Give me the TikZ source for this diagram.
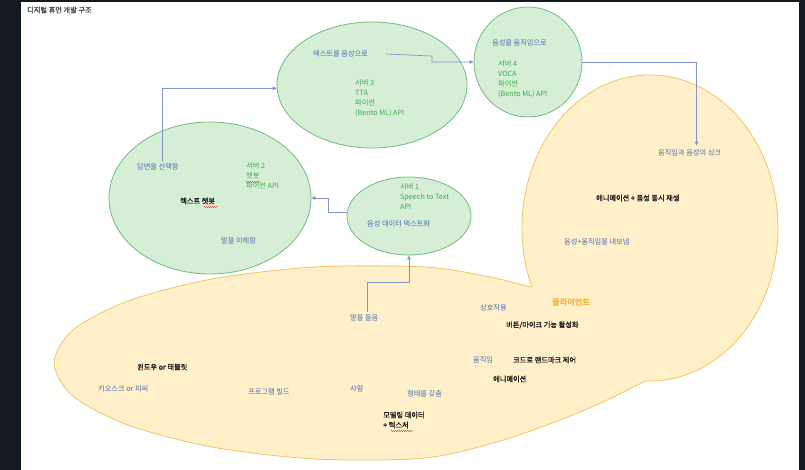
\documentclass[tikz,border=0pt]{standalone}
\usepackage{fontspec}
\setmainfont{Noto Sans CJK KR}
\newfontfamily\krmed[FakeBold=1.2]{Noto Sans CJK KR}
\usetikzlibrary{arrows.meta,shapes.geometric,decorations.pathmorphing}
\definecolor{frame}{HTML}{141820}
\definecolor{gfill}{HTML}{D6EED6}
\definecolor{gline}{HTML}{6DBE7D}
\definecolor{yfill}{HTML}{FFF0C9}
\definecolor{yline}{HTML}{F3C462}
\definecolor{btext}{HTML}{4B6CB7}
\definecolor{gtext}{HTML}{3DAA4F}
\definecolor{conncol}{HTML}{7F95CC}
\definecolor{otext}{HTML}{F2B23A}
\definecolor{ktext}{HTML}{1E1E1E}
\definecolor{squig}{HTML}{E04040}
\begin{document}
\begin{tikzpicture}[x=1pt,y=-1pt,
  every node/.style={inner sep=0pt, font=\fontsize{7.2}{10}\selectfont},
  btxt/.style={text=btext, anchor=west},
  gtxt/.style={text=gtext, anchor=west, align=left},
  ktxt/.style={text=ktext, anchor=west, align=left, font=\fontsize{7.2}{10}\selectfont\krmed},
  server/.style={ellipse, draw=gline, fill=gfill, line width=0.8pt, inner sep=0pt},
  conn/.style={draw=conncol, line width=0.7pt, -{Triangle[length=4pt,width=3.6pt]}},
  squiggle/.style={draw=squig, line width=0.4pt, decorate, decoration={snake, amplitude=0.6pt, segment length=2pt}}
]
\useasboundingbox (0,0) rectangle (805,470);
\fill[frame] (0,0) rectangle (805,470);
\fill[white] (21,2) rectangle (799,470);

% client blob
\path[draw=yline, fill=yfill, line width=0.8pt]
  (650,228) ++(157.6:128 and 153)
  arc[start angle=157.6, end angle=452.2, x radius=128, y radius=153]
  -- plot[smooth] coordinates {(645,381) (605,401) (560,420) (500,441) (425,458) (315,459) (212,447) (128,425) (73,396) (54,363) (73,330) (128,301) (212,279) (315,267) (425,267) (490,277) (530,287)}
  -- cycle;

% servers
\node[server, minimum width=202pt, minimum height=152pt] (chat) at (210,198) {};
\node[server, minimum width=190pt, minimum height=126pt] (tta) at (372,85) {};
\node[server, minimum width=108pt, minimum height=110pt] (voca) at (528,62) {};
\node[server, minimum width=124pt, minimum height=78pt] (stt) at (409,216) {};

% title
\node[anchor=west, text=ktext!85, font=\fontsize{7.2}{9}\selectfont\krmed] (title) at (27,10) {디지털 휴먼 개발 구조};

% chatbot texts
\node[btxt] (answer) at (137,167) {답변을 선택함};
\node[gtxt] (srv2) at (246,176) {서버 2\\챗봇\\파이썬 API};
\node[ktxt] (chatbot) at (180,201) {텍스트 챗봇};
\node[btxt] (understand) at (221,241) {말을 이해함};

% tta texts
\node[btxt] (tts) at (313,54) {텍스트를 음성으로};
\node[gtxt] (srv3) at (355,98) {서버 3\\TTA\\파이썬\\(Bento ML) API};

% voca texts
\node[btxt] (v2m) at (492,43) {음성을 움직임으로};
\node[gtxt] (srv4) at (498,79) {서버 4\\VOCA\\파이썬\\(Bento ML) API};

% stt texts
\node[gtxt] (srv1) at (400,197) {서버 1\\Speech to Text\\API};
\node[btxt] (stt2t) at (367,224) {음성 데이터 텍스트화};

% client texts
\node[btxt] (sync) at (658,153) {움직임과 음성의 싱크};
\node[ktxt] (animsnd) at (596,198) {애니메이션 + 음성 동시 재생};
\node[btxt] (export) at (564,242) {음성+움직임을 내보냄};
\node[anchor=west, text=otext, font=\fontsize{8.2}{10}\selectfont\bfseries] (client) at (552,302) {클라이언트};
\node[btxt] (listen) at (350,318) {말을 들음};
\node[btxt] (interact) at (480,308) {상호작용};
\node[ktxt] (button) at (506,325) {버튼/마이크 기능 활성화};
\node[btxt] (move) at (473,360) {움직임};
\node[ktxt] (code) at (513,360) {코드로 랜드마크 제어};
\node[ktxt] (anim) at (493,379) {애니메이션};
\node[ktxt] (windows) at (137,367) {윈도우 or 태블릿};
\node[btxt] (kiosk) at (98,389) {키오스크 or 피씨};
\node[btxt] (build) at (248,392) {프로그램 빌드};
\node[btxt] (person) at (350,389) {사람};
\node[btxt] (shape) at (407,394) {형태를 갖춤};
\node[ktxt] (model) at (383,420) {모델링 데이터\\+ 텍스처};

% spell-check squiggles
\draw[squiggle] (204,207) -- (218,207);
\draw[squiggle] (246,182) -- (260,182);
\draw[squiggle] (391,431) -- (413,431);

% connectors
\coordinate (k1) at (432,56);
\coordinate (k3) at (409,282);
\draw[conn] ([xshift=4pt,yshift=2pt]answer.north) |- (tta.182);
\draw[conn] ([xshift=18pt]tts.east) -- (k1) |- (voca.west);
\draw[conn] (voca.east) -| ([xshift=7pt,yshift=4pt]sync.north);
\draw[conn] (stt.177) -- ++(-18,0) |- (chat.east);
\draw[conn] ([xshift=3pt,yshift=3pt]listen.north) |- (k3) -- (stt.south);
\end{tikzpicture}
\end{document}
